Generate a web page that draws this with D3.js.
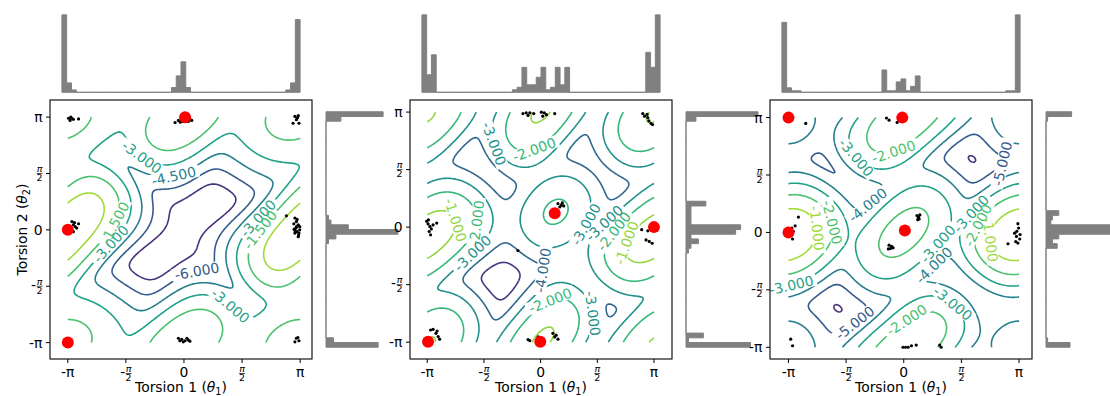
<!DOCTYPE html>
<html>
<head>
<meta charset="utf-8">
<script src="https://cdn.jsdelivr.net/npm/d3@7/dist/d3.min.js"></script>
<style>
  html, body { margin: 0; padding: 0; background: #fff; }
  svg { display: block; }
  text { font-family: "DejaVu Sans", "Liberation Sans", sans-serif; }
</style>
</head>
<body>
<svg id="fig" width="1110" height="396"></svg>
<script>
const PI = Math.PI;

// Shared torsion-angle ticks
const torsionTicks = [-PI, -PI / 2, 0, PI / 2, PI];
const torsionTickLabels = ["-π", "-π/2", "0", "π/2", "π"];

// ---------------- Panel 1 ----------------
const rangeX1 = [-3.30, 3.14];
const rangeY1 = [-3.27, 3.29];
const levels1 = [-9, -7.5, -6, -4.5, -3, -1.5, 0, 1.5];
const temper1 = 1.0;
// von Mises modes: [θ1, θ2, log-weight, κ1, κ2, correlation]
const modes1 = [
  [3.14, -0.05, 1.20, 4.8, 4.0, 3.5],
  [0.00, 3.14, -0.05, 3.8, 4.6, 2.2],
  [3.00, 3.14, -0.90, 2.1, 3.2, 0.6]
];
const samples1 = [
  [-3.12, 3.11], [-3.08, 3.05], [-3.03, 3.11], [-2.99, 3.08], [-3.06, 3.14], [-2.85, 3.09],
  [-0.24, 2.99], [-0.15, 3.05], [-0.06, 3.09], [0.07, 3.07], [0.16, 3.09], [0.21, 3.05], [-0.02, 3.02], [0.12, 3.02], [0.10, 3.12], [-0.10, 3.00],
  [3.00, 3.16], [3.09, 3.18], [3.04, 3.07], [2.95, 2.97], [3.11, 2.97], [3.07, 3.12],
  [-3.03, 0.23], [-2.99, 0.14], [-2.94, 0.09], [-3.08, 0.09], [-2.99, -0.05], [-2.90, 0.05], [-2.85, 0.17], [-3.06, 0.00], [-2.96, 0.20],
  [2.77, 0.39], [3.00, 0.33], [3.04, 0.23], [3.09, 0.14], [3.03, 0.05], [3.06, -0.05], [3.11, -0.09], [3.00, -0.09], [3.09, -0.19],
  [3.13, 0.00], [3.04, 0.09], [2.97, 0.17], [3.13, 0.09], [3.00, -0.02], [3.06, 0.29], [2.98, 0.02], [3.10, -0.14],
  [-0.15, -3.02], [-0.06, -3.05], [0.03, -3.09], [0.12, -3.07], [-0.02, -3.12], [-0.11, -3.09], [0.08, -3.02], [0.16, -3.10],
  [3.04, -3.02], [3.11, -3.09], [3.00, -3.12], [3.08, -3.00]
];
const starts1 = [[-3.14, 0.00], [0.03, 3.14], [-3.14, -3.14]];
const histTheta1_1 = [33,4,1,0,0,0,0,0,0,0, 0,0,0,0,0,0,0,0,0,0, 0,0,0,2,7,13,2,0,0,0, 0,0,0,0,0,0,0,0,0,0, 0,0,0,0,0,0,0,1,4,31];
const histTheta2_1 = [21,3,0,0,0,0,0,0,0,0, 0,0,0,0,0,0,0,0,0,0, 0,0,1,4,29,9,2,1,0,0, 0,0,0,0,0,0,0,0,0,0, 0,0,0,0,0,0,0,0,6,23];
// contour label spots: [level, θ1, θ2]
const labelSpots1 = [
  [-6, 0.34, -1.02], [-4.5, -0.29, 1.49], [-3, -1.14, 2.04], [-3, -1.91, -0.46],
  [-1.5, -1.95, 0.23], [-3, 1.29, -2.04], [-3, 1.87, 0.46], [-1.5, 2.05, 0.0]
];

// ---------------- Panel 2 ----------------
const rangeX2 = [-3.29, 3.31];
const rangeY2 = [-3.28, 3.15];
const levels2 = [-6, -5, -4, -3, -2, -1, 0];
const temper2 = 0.6;
const modes2 = [
  [0.42, 0.42, -1.85, 2.8, 2.8, 0.7],
  [3.14, -0.26, -0.50, 2.3, 2.9, 1.5],
  [0.05, -3.08, -0.90, 3.2, 2.6, 1.8],
  [3.15, 3.07, -0.95, 2.8, 2.8, 1.4],
  [0.00, 0.00, -5.65, 0.0, 0.0, 0.0]
];
const samples2 = [
  [0.48, 0.64], [0.60, 0.66], [0.64, 0.58], [0.53, 0.55], [0.57, 0.60], [-0.63, -0.64],
  [-0.49, 3.10], [-0.40, 3.12], [-0.30, 3.12], [-0.19, 3.10], [0.02, 3.14], [0.06, 3.03], [0.16, 3.07], [0.39, 3.10], [0.10, 3.12], [-0.35, 3.05],
  [2.83, 3.10], [2.88, 3.03], [2.95, 3.08], [2.97, 2.99], [3.06, 2.83], [3.10, 2.80], [3.00, 2.90],
  [-3.16, 0.16], [-3.12, 0.09], [-3.07, 0.02], [-3.03, -0.05], [-2.98, 0.06], [-3.09, -0.12], [-2.88, 0.11], [-3.05, -0.21], [-3.11, 0.20],
  [2.97, -0.10], [2.92, -0.35], [3.01, -0.39], [3.09, -0.44], [2.80, -0.07],
  [-0.35, -3.07], [-0.30, -3.10], [-0.07, -3.00], [0.34, -2.90], [0.39, -3.00], [0.43, -2.95], [0.48, -3.06],
  [-3.05, -2.81], [-2.98, -2.79], [-2.90, -2.90], [-2.84, -2.99], [-2.80, -3.06], [-2.87, -2.84]
];
const starts2 = [[0.39, 0.38], [3.14, 0.00], [-3.12, -3.13], [-0.01, -3.13]];
const histTheta1_2 = [31,7,15,0,0,0,0,0,0,0, 0,0,0,0,0,0,0,0,0,1, 2,10,3,3,6,10,1,2,10,3, 10,0,0,0,0,0,0,0,0,0, 0,0,0,0,0,0,0,16,10,31];
const histTheta2_2 = [26,1,7,0,0,0,0,0,0,0, 0,0,0,0,0,0,0,0,0,0, 1,2,5,2,20,22,2,2,2,2, 8,0,0,0,0,0,0,0,0,0, 0,0,0,0,0,0,0,0,4,29];
const labelSpots2 = [
  [-3, -1.41, 2.21], [-2, -0.17, 2.12], [-3, 1.17, 0.11], [-4, 0.99, -1.40], [-2, 0.25, -1.99],
  [-3, 1.49, -2.35], [-1, -2.10, 0.29], [-2, -1.95, 0.15], [-3, -2.15, -0.44], [-1, 2.09, -0.35],
  [-2, 1.86, 0.02], [-3, 1.75, 0.10]
];

// ---------------- Panel 3 ----------------
const rangeX3 = [-3.32, 3.17];
const rangeY3 = [-3.14, 3.30];
const levels3 = [-7, -6, -5, -4, -3, -2, -1, 0];
const temper3 = 0.6;
const modes3 = [
  [0.00, 0.00, -1.60, 2.45, 2.45, 1.35],
  [3.14, -0.06, -0.20, 2.8, 3.4, 0.5],
  [0.08, 3.14, -1.20, 2.4, 3.0, 2.0],
  [3.14, 3.14, -3.30, 3.0, 3.0, 0.0],
  [0.00, 0.00, -6.40, 0.0, 0.0, 0.0]
];
const samples3 = [
  [-2.67, 2.98], [-0.47, 3.13], [-0.40, 3.07], [-0.18, 3.01],
  [0.36, 0.46], [0.40, 0.42], [0.42, 0.37], [0.38, 0.35], [0.44, 0.48], [0.40, 0.40],
  [-0.40, -0.35], [-0.33, -0.38], [-0.36, -0.44], [-0.29, -0.42], [-0.42, -0.45],
  [-2.87, 0.42], [-2.96, 0.18], [-3.05, 0.12], [-3.01, 0.03], [-3.08, -0.06], [-3.03, -0.18],
  [2.84, -0.31], [3.02, -0.02], [3.08, 0.03], [3.13, 0.12], [3.11, 0.24], [3.07, -0.11], [3.16, -0.18], [3.05, -0.25], [3.11, -0.29], [3.17, -0.06],
  [-3.08, -2.92], [-3.03, -3.10], [-0.02, -3.14], [0.05, -3.14], [0.12, -3.14], [0.21, -3.10], [0.34, -3.08], [0.98, -3.08], [1.02, -3.14]
];
const starts3 = [[-3.14, 3.14], [-0.04, 3.14], [-3.14, 0.00], [0.03, 0.05]];
const histTheta1_3 = [47,3,1,1,0,0,0,0,0,0, 0,0,0,0,0,0,0,0,0,0, 0,15,1,1,7,9,1,4,11,0, 0,0,0,0,0,0,0,0,0,0, 0,0,0,0,0,0,0,1,1,52];
const histTheta2_3 = [15,1,0,0,0,0,0,0,0,0, 0,0,0,0,0,0,0,0,0,0, 0,7,4,8,42,45,3,4,8,0, 0,0,0,0,0,0,0,0,0,0, 0,0,0,0,0,0,0,0,1,16];
const labelSpots3 = [
  [-3, -1.33, 2.04], [-2, -0.24, 2.17], [-4, -0.92, 0.71], [-3, 0.89, -0.29], [-4, 0.71, -0.75],
  [-5, 2.79, 1.81], [-3, 2.05, 0.30], [-2, 2.20, 0.10], [-1, 2.25, -0.20], [-2, -2.20, 0.20],
  [-1, -2.40, 0.10], [-3, -3.10, -1.30], [-5, -1.38, -2.39], [-2, -0.02, -2.21], [-3, 1.25, -2.03]
];

const panels = [
  { left: 50,  rangeX: rangeX1, rangeY: rangeY1, levels: levels1, temper: temper1, modes: modes1, samples: samples1, starts: starts1, histX: histTheta1_1, histY: histTheta2_1, labels: labelSpots1, ylabel: true },
  { left: 410, rangeX: rangeX2, rangeY: rangeY2, levels: levels2, temper: temper2, modes: modes2, samples: samples2, starts: starts2, histX: histTheta1_2, histY: histTheta2_2, labels: labelSpots2, ylabel: false },
  { left: 770, rangeX: rangeX3, rangeY: rangeY3, levels: levels3, temper: temper3, modes: modes3, samples: samples3, starts: starts3, histX: histTheta1_3, histY: histTheta2_3, labels: labelSpots3, ylabel: false }
];

// ---------------- layout ----------------
const AX_W = 262, AX_TOP = 100, AX_BOTTOM = 359;
const HIST_TOP = 11, HIST_BASE = 92.3;
const RHIST_GAP = 14, RHIST_W = 75.6;
const TICK_LEN = 4, TICK_FS = 13.9, FRAC_FS = 9.5, LABEL_FS = 13.9, CLABEL_FS = 14;
const GRID_N = 161;
const histColor = "#808080";

const svg = d3.select("#fig");

// tempered log-sum of bivariate von Mises (sine model) components
function logDensity(modes, tau) {
  return (x, y) => {
    const terms = modes.map(([mx, my, w, k1, k2, r]) => {
      const dx = x - mx, dy = y - my;
      return w + k1 * (Math.cos(dx) - 1) + k2 * (Math.cos(dy) - 1) + r * Math.sin(dx) * Math.sin(dy);
    });
    const m = Math.max(...terms);
    let s = 0;
    for (const t of terms) s += Math.exp((t - m) / tau);
    return m + tau * Math.log(s);
  };
}

// marching squares: iso-lines of a grid, chained into polylines (grid index coords)
function isoLines(values, n, level) {
  const segs = [];
  const V = (i, j) => values[j * n + i];
  const t = (a, b) => (level - a) / (b - a);
  for (let j = 0; j < n - 1; j++) {
    for (let i = 0; i < n - 1; i++) {
      const v0 = V(i, j), v1 = V(i + 1, j), v2 = V(i + 1, j + 1), v3 = V(i, j + 1);
      const code = (v0 > level ? 1 : 0) | (v1 > level ? 2 : 0) | (v2 > level ? 4 : 0) | (v3 > level ? 8 : 0);
      if (code === 0 || code === 15) continue;
      const edge = [
        () => ({ k: "h" + i + "_" + j, p: [i + t(v0, v1), j] }),
        () => ({ k: "v" + (i + 1) + "_" + j, p: [i + 1, j + t(v1, v2)] }),
        () => ({ k: "h" + i + "_" + (j + 1), p: [i + t(v3, v2), j + 1] }),
        () => ({ k: "v" + i + "_" + j, p: [i, j + t(v0, v3)] })
      ];
      let pairs;
      const c = (v0 + v1 + v2 + v3) / 4;
      switch (code) {
        case 1: case 14: pairs = [[3, 0]]; break;
        case 2: case 13: pairs = [[0, 1]]; break;
        case 3: case 12: pairs = [[3, 1]]; break;
        case 4: case 11: pairs = [[1, 2]]; break;
        case 6: case 9: pairs = [[0, 2]]; break;
        case 7: case 8: pairs = [[3, 2]]; break;
        case 5: pairs = c > level ? [[0, 1], [2, 3]] : [[3, 0], [1, 2]]; break;
        case 10: pairs = c > level ? [[3, 0], [1, 2]] : [[0, 1], [2, 3]]; break;
      }
      for (const [a, b] of pairs) segs.push([edge[a](), edge[b]()]);
    }
  }
  const byKey = new Map();
  segs.forEach((s, idx) => {
    for (const e of s) {
      if (!byKey.has(e.k)) byKey.set(e.k, []);
      byKey.get(e.k).push(idx);
    }
  });
  const used = new Uint8Array(segs.length);
  const extend = (key) => {
    const pts = [];
    while (true) {
      const cand = (byKey.get(key) || []).find(s => !used[s]);
      if (cand === undefined) break;
      used[cand] = 1;
      const other = segs[cand][0].k === key ? segs[cand][1] : segs[cand][0];
      pts.push(other.p);
      key = other.k;
    }
    return pts;
  };
  const lines = [];
  for (let s = 0; s < segs.length; s++) {
    if (used[s]) continue;
    used[s] = 1;
    const fwd = extend(segs[s][1].k);
    const back = extend(segs[s][0].k);
    lines.push(back.reverse().concat([segs[s][0].p, segs[s][1].p], fwd));
  }
  return lines;
}

function padded(range) {
  const r = range[1] - range[0];
  return [range[0] - 0.05 * r, range[1] + 0.05 * r];
}

// tick label: plain text, or a stacked fraction with optional minus sign
function tickLabel(g, label, x, y, orient) {
  const frac = label.includes("/");
  if (!frac) {
    if (orient === "bottom") {
      g.append("text").attr("x", x).attr("y", y + 0.73 * TICK_FS)
        .attr("text-anchor", "middle").attr("font-size", TICK_FS).text(label);
    } else {
      g.append("text").attr("x", x).attr("y", y + 0.36 * TICK_FS)
        .attr("text-anchor", "end").attr("font-size", TICK_FS).text(label);
    }
    return;
  }
  const neg = label.startsWith("-");
  const minusW = neg ? 0.361 * TICK_FS : 0;
  const fracW = 0.62 * FRAC_FS;
  const total = minusW + fracW + (neg ? 0.5 : 0);
  const x0 = orient === "bottom" ? x - total / 2 : x - total;
  const bar = orient === "bottom" ? y + 7 : y;
  const gg = g.append("g");
  if (neg) {
    gg.append("text").attr("x", x0).attr("y", bar + 0.27 * TICK_FS)
      .attr("font-size", TICK_FS).text("-");
  }
  const fx = x0 + minusW + (neg ? 0.5 : 0) + fracW / 2;
  gg.append("text").attr("x", fx).attr("y", bar - 1.4).attr("text-anchor", "middle")
    .attr("font-size", FRAC_FS).attr("font-style", "italic").text("π");
  gg.append("line").attr("x1", fx - fracW / 2).attr("x2", fx + fracW / 2)
    .attr("y1", bar).attr("y2", bar).attr("stroke", "#000").attr("stroke-width", 0.7);
  gg.append("text").attr("x", fx).attr("y", bar + 7.6).attr("text-anchor", "middle")
    .attr("font-size", FRAC_FS).text("2");
}

function axisTitle(sel, idx) {
  sel.append("tspan").text("Torsion " + idx + " (");
  sel.append("tspan").attr("font-style", "italic").text("θ");
  sel.append("tspan").attr("font-size", 9.7).attr("dy", 3).text(idx);
  sel.append("tspan").attr("dy", -3).text(")");
}

panels.forEach((P, pi) => {
  const L = P.left, R = L + AX_W;
  const x = d3.scaleLinear().domain(padded(P.rangeX)).range([L, R]);
  const y = d3.scaleLinear().domain(padded(P.rangeY)).range([AX_BOTTOM, AX_TOP]);

  // log-density grid on [-π, π]²
  const f = logDensity(P.modes, P.temper);
  const h = 2 * PI / (GRID_N - 1);
  const values = new Float64Array(GRID_N * GRID_N);
  for (let j = 0; j < GRID_N; j++)
    for (let i = 0; i < GRID_N; i++)
      values[j * GRID_N + i] = f(-PI + i * h, -PI + j * h);

  const lo = P.levels[0], hi = P.levels[P.levels.length - 1];
  const color = v => d3.interpolateViridis((v - lo) / (hi - lo));
  const toPx = p => [x(-PI + p[0] * h), y(-PI + p[1] * h)];
  const levelLines = P.levels.map(lv => isoLines(values, GRID_N, lv).map(l => l.map(toPx)));

  const clipId = "clip" + pi, maskId = "mask" + pi;
  const defs = svg.append("defs");
  defs.append("clipPath").attr("id", clipId)
    .append("rect").attr("x", L).attr("y", AX_TOP).attr("width", AX_W).attr("height", AX_BOTTOM - AX_TOP);
  const mask = defs.append("mask").attr("id", maskId).attr("maskUnits", "userSpaceOnUse")
    .attr("x", 0).attr("y", 0).attr("width", 1110).attr("height", 396);
  mask.append("rect").attr("x", 0).attr("y", 0).attr("width", 1110).attr("height", 396).attr("fill", "#fff");

  const plot = svg.append("g").attr("clip-path", `url(#${clipId})`);
  const lineGroup = plot.append("g").attr("mask", `url(#${maskId})`);
  const line = d3.line();
  P.levels.forEach((lv, k) => {
    levelLines[k].forEach(pts => {
      lineGroup.append("path").attr("d", line(pts)).attr("fill", "none")
        .attr("stroke", color(lv)).attr("stroke-width", 1.6).attr("stroke-linejoin", "round");
    });
  });

  // inline contour labels
  const labelGroup = plot.append("g");
  P.labels.forEach(([lv, lx, ly]) => {
    const k = P.levels.indexOf(lv);
    if (k < 0) return;
    const px = x(lx), py = y(ly);
    let best = null, bd = Infinity;
    levelLines[k].forEach(pts => {
      pts.forEach((q, qi) => {
        const d = (q[0] - px) ** 2 + (q[1] - py) ** 2;
        if (d < bd) { bd = d; best = { pts, qi }; }
      });
    });
    if (!best || Math.sqrt(bd) > 40) return;
    const { pts, qi } = best;
    const a = pts[Math.max(0, qi - 4)], b = pts[Math.min(pts.length - 1, qi + 4)];
    let ang = Math.atan2(b[1] - a[1], b[0] - a[0]) * 180 / PI;
    if (ang > 90) ang -= 180;
    if (ang < -90) ang += 180;
    const c = pts[qi];
    const tx = labelGroup.append("text")
      .attr("transform", `translate(${c[0]},${c[1]}) rotate(${ang})`)
      .attr("text-anchor", "middle").attr("dy", "0.36em")
      .attr("font-size", CLABEL_FS).attr("fill", color(lv))
      .text(lv.toFixed(3));
    const w = tx.node().getComputedTextLength();
    mask.append("rect").attr("x", -w / 2 - 3).attr("y", -CLABEL_FS * 0.45)
      .attr("width", w + 6).attr("height", CLABEL_FS * 0.9)
      .attr("transform", `translate(${c[0]},${c[1]}) rotate(${ang})`).attr("fill", "#000");
  });

  // samples and starting points
  plot.append("g").selectAll("circle").data(P.samples).join("circle")
    .attr("cx", d => x(d[0])).attr("cy", d => y(d[1])).attr("r", 1.6).attr("fill", "#000");
  plot.append("g").selectAll("circle").data(P.starts).join("circle")
    .attr("cx", d => x(d[0])).attr("cy", d => y(d[1])).attr("r", 6).attr("fill", "#ff0000");

  // frame and ticks
  svg.append("rect").attr("x", L).attr("y", AX_TOP).attr("width", AX_W).attr("height", AX_BOTTOM - AX_TOP)
    .attr("fill", "none").attr("stroke", "#000").attr("stroke-width", 1.1);
  const tg = svg.append("g");
  torsionTicks.forEach((tv, ti) => {
    const X = x(tv), Y = y(tv);
    tg.append("line").attr("x1", X).attr("x2", X).attr("y1", AX_BOTTOM).attr("y2", AX_BOTTOM + TICK_LEN)
      .attr("stroke", "#000").attr("stroke-width", 1);
    tg.append("line").attr("x1", L).attr("x2", L - TICK_LEN).attr("y1", Y).attr("y2", Y)
      .attr("stroke", "#000").attr("stroke-width", 1);
    tickLabel(tg, torsionTickLabels[ti], X, AX_BOTTOM + TICK_LEN + 3.5, "bottom");
    tickLabel(tg, torsionTickLabels[ti], L - TICK_LEN - 3.5, Y, "left");
  });
  svg.append("text").attr("x", (L + R) / 2).attr("y", 392).attr("text-anchor", "middle")
    .attr("font-size", LABEL_FS).call(s => axisTitle(s, 1));
  if (P.ylabel) {
    svg.append("text").attr("transform", `translate(27,${(AX_TOP + AX_BOTTOM) / 2}) rotate(-90)`)
      .attr("text-anchor", "middle").attr("font-size", LABEL_FS).call(s => axisTitle(s, 2));
  }

  // marginal histogram of θ1 (top)
  const nb = P.histX.length;
  const hx = d3.scaleLinear().domain(padded(P.rangeX)).range([L, R]);
  const hy = d3.scaleLinear().domain([0, d3.max(P.histX) * 1.05]).range([HIST_BASE, HIST_TOP]);
  const ex = i => P.rangeX[0] + i * (P.rangeX[1] - P.rangeX[0]) / nb;
  const topPts = [[hx(ex(0)), hy(0)]];
  P.histX.forEach((c, i) => { topPts.push([hx(ex(i)), hy(c)], [hx(ex(i + 1)), hy(c)]); });
  topPts.push([hx(ex(nb)), hy(0)]);
  svg.append("path").attr("d", d3.line()(topPts) + "Z")
    .attr("fill", histColor).attr("stroke", histColor).attr("stroke-width", 1);

  // marginal histogram of θ2 (right)
  const RL = R + RHIST_GAP;
  const ry = d3.scaleLinear().domain(padded(P.rangeY)).range([AX_BOTTOM, AX_TOP]);
  const rx = d3.scaleLinear().domain([0, d3.max(P.histY) * 1.05]).range([RL, RL + RHIST_W]);
  const ey = i => P.rangeY[0] + i * (P.rangeY[1] - P.rangeY[0]) / nb;
  const rPts = [[rx(0), ry(ey(0))]];
  P.histY.forEach((c, i) => { rPts.push([rx(c), ry(ey(i))], [rx(c), ry(ey(i + 1))]); });
  rPts.push([rx(0), ry(ey(nb))]);
  svg.append("path").attr("d", d3.line()(rPts) + "Z")
    .attr("fill", histColor).attr("stroke", histColor).attr("stroke-width", 1);
});
</script>
</body>
</html>
